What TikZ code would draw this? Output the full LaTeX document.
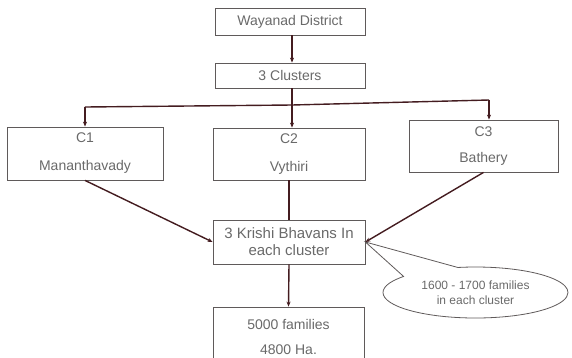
\documentclass[tikz,border=0pt]{standalone}
\usepackage{fontspec}
\setmainfont{Liberation Sans}
\usetikzlibrary{arrows.meta,shapes.callouts}

\definecolor{linkbrown}{RGB}{68,28,32}
\definecolor{boxgray}{RGB}{95,90,90}
\definecolor{textgray}{RGB}{105,105,105}

\begin{document}
\begin{tikzpicture}[x=1pt,y=-1pt,
		box/.style={draw=boxgray,line width=0.8pt,text=textgray,align=center,inner sep=0pt,
			font=\fontsize{14}{17}\selectfont},
		link/.style={draw=linkbrown,line width=1.4pt},
		linkarrow/.style={link,-{Stealth[length=5pt,width=4pt]}}]
				\useasboundingbox (0,0) rectangle (572,357);
				% boxes
				\node[box,minimum width=150pt,minimum height=27pt] (dist) at (290,21.5) {Wayanad District};
				\node[box,minimum width=150pt,minimum height=25pt] (clus) at (290,75.5) {3 Clusters};
				\node[box,minimum width=156pt,minimum height=53pt] (c1) at (85,153.5) {C1\\[11pt]Mananthavady};
				\node[box,minimum width=152pt,minimum height=52pt] (c2) at (289,154) {C2\\[11pt]Vythiri};
				\node[box,minimum width=149pt,minimum height=52pt] (c3) at (483.5,146) {C3\\[9pt]Bathery};
				\node[box,minimum width=152pt,minimum height=44pt,font=\fontsize{15}{17}\selectfont] (kb) at (289,242) {3 Krishi Bhavans In\\each cluster};
				\node[box,minimum width=151pt,minimum height=60pt] (fam) at (288.5,337) {5000 families\\[8pt]4800 Ha.};
				\node[ellipse callout,draw=boxgray,line width=0.8pt,text=textgray,align=center,inner sep=0pt,
					font=\fontsize{12}{15}\selectfont,minimum width=185pt,minimum height=51pt,
					callout absolute pointer={(kb.east)},callout pointer arc=40] (note) at (475.5,292.5)
					{1600 - 1700 families\\in each cluster};
				% branch bar
				\coordinate (barL) at (85,107);
				\coordinate (barM) at (292,105);
				\coordinate (barR) at (489,100);
				\draw[link] (clus.south -| barM) -- (barM);
				\draw[link] (barL) -- (barM) -- (barR);
				\draw[linkarrow] (dist.south -| barM) -- (clus.north -| barM);
				\foreach \from/\to in {barL/c1,barM/c2,barR/c3}
					\draw[linkarrow] (\from) -- (\from |- \to.north);
				\foreach \from/\to in {c1.south/kb.west,c3.south/kb.east,kb.south/fam.north}
					\draw[linkarrow] (\from) -- (\to);
				\draw[link] (c2.south) -- (kb.north);
			\end{tikzpicture}
\end{document}
